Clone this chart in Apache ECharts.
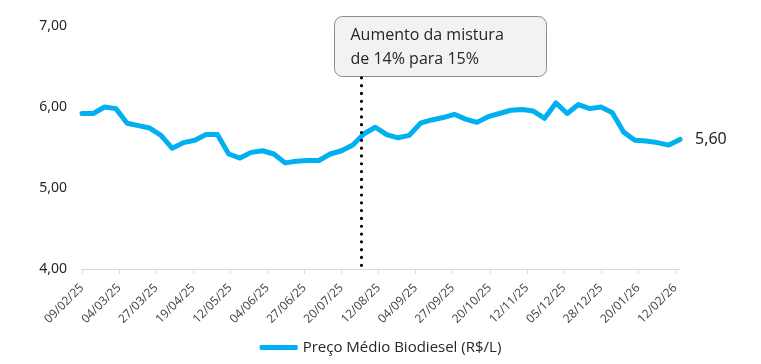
<!DOCTYPE html>
<html>
<head>
<meta charset="utf-8">
<script src="https://cdn.jsdelivr.net/npm/echarts@6/dist/echarts.min.js"></script>
<style>html,body{margin:0;padding:0;background:#fff}#c{width:761px;height:364px}</style>
</head>
<body>
<div id="c"></div>
<script>
// Weekly series start date and values (R$/L)
const startDate = [2025, 1, 9]; // 09/02/25 (month 0-based)
const weeklyValues = [5.92,5.92,6.00,5.98,5.80,5.77,5.74,5.65,5.49,5.56,
  5.59,5.66,5.66,5.42,5.37,5.44,5.46,5.42,5.31,5.33,
  5.34,5.34,5.42,5.46,5.53,5.67,5.75,5.66,5.62,5.65,
  5.80,5.84,5.87,5.91,5.85,5.81,5.88,5.92,5.96,5.97,
  5.95,5.86,6.05,5.92,6.03,5.98,6.00,5.93,5.69,5.59,
  5.58,5.56,5.53,5.60];
const seriesName = 'Preço Médio Biodiesel (R$/L)';
const eventDate = '01/08/25';
const eventText = ['Aumento da mistura', 'de 14% para 15%'];
const yTicks = [4, 5, 6, 7];

function fmt(d){
  const p = n => String(n).padStart(2,'0');
  return p(d.getDate()) + '/' + p(d.getMonth()+1) + '/' + String(d.getFullYear()).slice(2);
}
// daily category axis spanning the weekly observations
const days = [];
const dailyData = [];
const nDays = (weeklyValues.length - 1) * 7 + 1;
for (let i = 0; i < nDays; i++) {
  const d = new Date(startDate[0], startDate[1], startDate[2] + i);
  days.push(fmt(d));
  dailyData.push(i % 7 === 0 ? weeklyValues[i / 7] : null);
}

const chart = echarts.init(document.getElementById('c'), null, {renderer: 'canvas'});
chart.setOption({
  animation: false,
  grid: {left: 82, right: 81, top: 26, bottom: 95, containLabel: false},
  xAxis: {
    type: 'category',
    data: days,
    boundaryGap: false,
    axisLine: {lineStyle: {color: '#d9d9d9', width: 1}},
    axisTick: {show: true, interval: 22, length: 5, lineStyle: {color: '#d9d9d9'}},
    axisLabel: {interval: 22, rotate: 45, fontSize: 12, color: '#404040', margin: 17, fontFamily: 'Open Sans'},
    splitLine: {show: false}
  },
  yAxis: {
    type: 'value',
    min: yTicks[0], max: yTicks[yTicks.length-1], interval: 1,
    axisLine: {show: false}, axisTick: {show: false},
    splitLine: {show: false},
    axisLabel: {fontSize: 14, color: '#262626', margin: 15, fontFamily: 'Noto Sans',
      formatter: v => v.toFixed(2).replace('.', ',')}
  },
  legend: {
    bottom: 4, left: 'center',
    icon: 'roundRect', itemWidth: 38, itemHeight: 5, itemGap: 8,
    textStyle: {fontSize: 15, color: '#262626', fontFamily: 'Open Sans'},
    data: [seriesName]
  },
  series: [{
    name: seriesName,
    type: 'line',
    data: dailyData,
    connectNulls: true,
    symbol: 'none',
    lineStyle: {color: '#00b0f0', width: 5, cap: 'round', join: 'round'},
    itemStyle: {color: '#00b0f0'},
    endLabel: {show: true, distance: 15, fontSize: 16, color: '#262626', fontFamily: 'Noto Sans',
      formatter: p => p.value.toFixed(2).replace('.', ',')},
    markLine: {
      silent: true, symbol: 'none',
      label: {show: false},
      lineStyle: {color: '#000', width: 3.2, type: [0.01, 7.8], cap: 'round'},
      data: [[{xAxis: eventDate, yAxis: 6.36}, {xAxis: eventDate, yAxis: 4.04}]]
    }
  }],
  graphic: [{
    type: 'group', left: 334, top: 16,
    children: [
      {type: 'rect', shape: {x: 0, y: 0, width: 212, height: 60, r: 8},
       style: {fill: '#f2f2f2', stroke: '#8c8c8c', lineWidth: 1}},
      {type: 'text', x: 16, y: 19, style: {text: eventText[0], font: '16px "Open Sans"', fill: '#262626', textVerticalAlign: 'middle'}},
      {type: 'text', x: 16, y: 43, style: {text: eventText[1], font: '16px "Open Sans"', fill: '#262626', textVerticalAlign: 'middle'}}
    ]
  }]
});
</script>
</body>
</html>
